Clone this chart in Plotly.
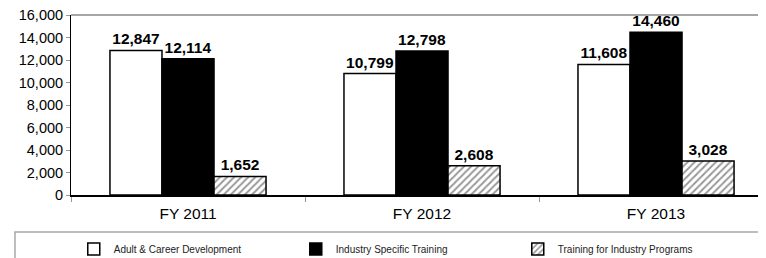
import plotly.graph_objects as go

categories = ["FY 2011", "FY 2012", "FY 2013"]
adult_career = [12847, 10799, 11608]
industry_specific = [12114, 12798, 14460]
training_industry = [1652, 2608, 3028]
series_names = ["Adult & Career Development", "Industry Specific Training", "Training for Industry Programs"]
y_ticks = [0, 2000, 4000, 6000, 8000, 10000, 12000, 14000, 16000]

FONT = "Arial, Liberation Sans, sans-serif"

fig = go.Figure()
common = dict(textposition="outside", texttemplate="%{y:,}", cliponaxis=False,
              textfont=dict(family=FONT, size=15.5, color="black", weight="bold"))
fig.add_trace(go.Bar(x=categories, y=adult_career, name=series_names[0],
                     marker=dict(color="white", line=dict(color="black", width=1.5)),
                     **common))
fig.add_trace(go.Bar(x=categories, y=industry_specific, name=series_names[1],
                     marker=dict(color="black", line=dict(color="black", width=1.5)),
                     **common))
fig.add_trace(go.Bar(x=categories, y=training_industry, name=series_names[2],
                     marker=dict(color="white", line=dict(color="black", width=1.5),
                                 pattern=dict(shape="/", fgcolor="#333333", bgcolor="white",
                                              size=5, solidity=0.4)),
                     **common))

# page body has an 8px margin, so the figure is 8px smaller and shifted
fig.update_layout(
    width=758, height=250,
    margin=dict(l=63, r=0, t=7, b=63, autoexpand=False),
    paper_bgcolor="white", plot_bgcolor="white",
    barmode="group", bargap=0.333, bargroupgap=0,
    font=dict(family=FONT, color="black"),
    legend=dict(orientation="h", yanchor="middle", y=-0.3, xanchor="left", x=0.004,
                entrywidth=177, entrywidthmode="pixels", traceorder="normal",
                font=dict(family=FONT, size=10, color="#222222"),
                bgcolor="rgba(0,0,0,0)", borderwidth=0),
    xaxis=dict(range=[-0.5, 2.47], showline=True, linecolor="black", linewidth=1.5,
               ticks="outside", tickson="boundaries", ticklen=5, tickcolor="#999999",
               ticklabelstandoff=4,
               tickfont=dict(family=FONT, size=15.5, color="black"), showgrid=False),
    yaxis=dict(range=[0, 16000], tickvals=y_ticks, tickformat=",", showgrid=False,
               showline=True, linecolor="black", linewidth=1,
               ticks="outside", ticklen=4, tickcolor="#999999", zeroline=False,
               ticklabeloverflow="allow",
               tickfont=dict(family=FONT, size=14.5, color="black")),
    shapes=[
        dict(type="line", xref="paper", yref="paper", x0=0, x1=1, y0=1, y1=1,
             line=dict(color="#888888", width=1.5)),
        dict(type="rect", xref="paper", yref="paper", x0=-0.0806, x1=1.05, y0=-0.2056, y1=-0.6,
             line=dict(color="#A8A8A8", width=1.5), fillcolor="rgba(0,0,0,0)", layer="below"),
    ],
)

fig.write_html("out.html")
